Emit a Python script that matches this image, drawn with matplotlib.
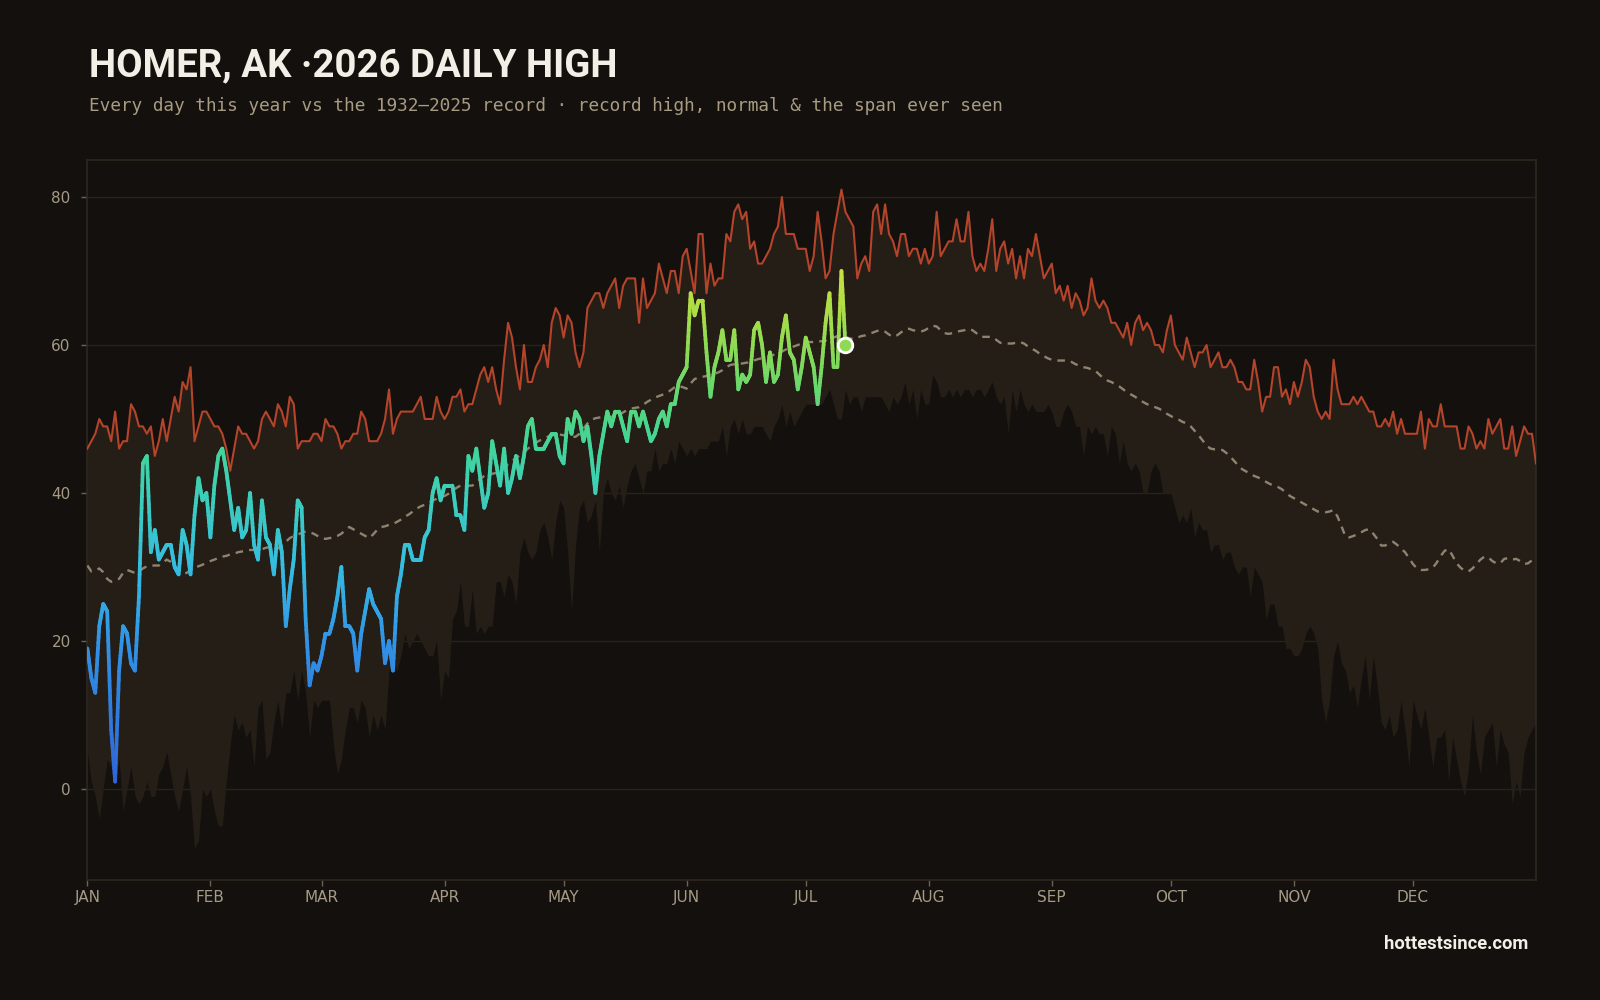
"""
Homer, AK 2026 daily high vs. the 1932-2025 record
"""

import numpy as np
import matplotlib
matplotlib.use('Agg')  # no display
import matplotlib.pyplot as plt
from matplotlib.collections import LineCollection
from matplotlib.colors import LinearSegmentedColormap

# ---- data (deg F, index 0 = Jan 1) ----
record_high = [
    46, 47, 48, 50, 49, 49, 47, 51, 46, 47, 47, 52, 51, 49, 49, 48, 49, 45, 47, 50,
    47, 50, 53, 51, 55, 54, 57, 47, 49, 51, 51, 50, 49, 49, 48, 46, 43, 46, 49, 48,
    48, 47, 46, 47, 50, 51, 50, 49, 52, 51, 49, 53, 52, 46, 47, 47, 47, 48, 48, 47,
    50, 49,
    49, 48, 46, 47, 47, 48, 48, 51, 50, 47, 47, 47, 48, 50, 54, 48, 50, 51, 51, 51,
    51, 52, 53, 50, 50, 50, 53, 51, 50, 51, 53, 53, 54, 51, 52, 52, 54, 56, 57, 55,
    57, 54, 52, 58, 63, 61, 57, 54, 60, 55, 55, 57, 58, 60, 57, 63, 65, 64, 61, 64,
    63, 59, 57, 59, 65, 66, 67, 67, 65, 67, 68, 69, 65, 68, 69, 69, 69, 63, 69, 65,
    66, 67, 71, 69, 67, 70, 70, 67, 72, 73, 70, 67, 75, 75, 67, 71, 68, 69, 69, 75,
    74, 78, 79, 77, 78, 73, 74, 71, 71, 72, 73, 75, 76, 80, 75, 75, 75, 73, 73, 73,
    70,
    72, 78, 74, 69, 70, 75, 78, 81, 78, 77, 76, 69, 71, 72, 70, 78, 79, 75, 79, 75,
    74, 72, 75, 75, 72, 73, 73, 71, 73, 71, 72, 78, 72, 73, 74, 74, 77, 74, 74, 78,
    72, 70, 71, 70, 73, 77, 70, 73, 74, 71, 73, 69, 72, 69, 73, 72, 75, 72, 69,
    70, 71, 67, 68, 66, 68, 65, 67, 66, 64, 65, 69, 66, 65, 66, 65, 63, 63, 62, 61,
    63, 60, 63, 64, 62, 63, 62, 60, 60, 59, 62, 64, 60, 59, 58, 61, 59, 57, 59, 59,
    60, 57, 58, 59, 57, 57, 58, 57, 55, 55, 54, 54, 58, 55, 51, 53, 53, 57, 57, 53,
    54, 52,
    55, 53, 55, 58, 57, 53, 51, 50, 51, 50, 58, 54, 52, 52, 52, 53, 52, 53, 52, 51,
    51, 49, 49, 50, 49, 51, 48, 50, 48, 48, 48, 48, 51, 46, 50, 49, 49, 52, 49, 49,
    49, 49, 46, 46, 49, 48, 46, 47, 46, 50, 48, 49, 50, 46, 46, 49, 45, 47, 49, 48,
    48, 44,
]

# lowest daily high ever recorded (bottom of the "span ever seen")
lowest_high = [
    5, 1, -1, -4, 0, 4, 3, 1, 4, -3, 0, 3, -1, -2, -1, 1, -1, -1, 2, 3,
    5, 2, -1, -3, 0, 3, -1, -8, -7, 0, -1, 0, -3, -5, -5, 1, 6, 10, 8, 9,
    7, 8, 3, 11, 12, 4, 5, 9, 12, 8, 13, 13, 16, 12, 16, 13, 7, 12, 11, 12,
    12, 12,
    6, 2, 4, 8, 11, 11, 9, 12, 11, 7, 10, 8, 10, 8, 16, 17, 16, 18, 21, 19,
    20, 21, 20, 19, 18, 18, 20, 12, 16, 15, 23, 24, 28, 22, 22, 27, 21, 22, 21, 22,
    22, 28, 28, 26, 29, 28, 25, 32, 34, 32, 31, 32, 35, 36, 34, 31, 36, 39, 38, 32,
    24, 33, 38, 39, 36, 37, 39, 32, 40, 42, 40, 39, 41, 38, 41, 43, 44, 42, 40, 43,
    43, 46, 43, 44, 44, 46, 44, 47, 46, 45, 46, 45, 46, 46, 46, 47, 47, 47, 49, 45,
    49, 50, 48, 50, 48, 48, 49, 49, 49, 48, 47, 49, 50, 52, 49, 51, 49, 50, 51, 52,
    52,
    52, 52, 52, 53, 54, 52, 50, 50, 54, 52, 53, 53, 51, 53, 53, 53, 53, 53, 52, 51,
    53, 52, 53, 55, 52, 54, 50, 54, 52, 52, 56, 55, 53, 53, 54, 53, 54, 53, 54, 54,
    53, 54, 54, 53, 54, 55, 53, 52, 53, 48, 54, 51, 54, 52, 51, 52, 51, 51, 51, 52,
    51, 49, 49, 51, 52, 51, 49, 49, 45, 49, 48, 49, 48, 48, 45, 49, 48, 44, 47, 44,
    43, 44, 43, 40, 40, 43, 44, 43, 40, 40, 40, 38, 36, 37, 36, 38, 34, 36, 35, 35,
    32, 33, 33, 31, 32, 32, 30, 29, 30, 30, 26, 30, 29, 28, 23, 25, 25, 22, 22, 19,
    19, 18, 18, 19, 21, 22, 21, 19, 12, 9, 12, 18, 20, 17, 16, 13, 14, 11, 15, 18,
    12, 18, 14, 9, 8, 10, 7, 8, 12, 8, 3, 12, 10, 8, 11, 7, 3, 7, 7, 8,
    1, 7, 4, 1, -1, 3, 10, 5, 2, 7, 8, 9, 3, 8, 6, 5, -2, 1, -1, 5,
    7, 8, 9,
]

normal_high = [
    30.2, 29.4, 29.5, 29.8, 29.3, 28.4, 28.0, 28.2, 28.4, 29.2,
    29.6, 29.4, 29.2, 29.4, 29.8, 30.1, 30.2, 30.2, 30.2, 30.6,
    31.0, 30.7, 30.0, 29.5, 29.0, 29.2, 29.6, 29.9, 30.1, 30.3,
    30.6, 30.8, 31.0, 31.2, 31.4, 31.5, 31.7, 31.8, 32.0, 32.1,
    32.2, 32.3, 32.3, 32.3, 32.4, 32.6, 32.7, 32.6, 32.5, 32.9,
    33.4, 33.9, 34.2, 34.4, 34.6, 34.8, 34.7, 34.5, 34.2,
    33.9, 33.8, 33.9, 34.0, 34.2, 34.5, 35.0, 35.4, 35.1, 34.8,
    34.5, 34.2, 33.9, 34.4, 35.0, 35.4, 35.5, 35.7, 35.8, 36.1,
    36.4, 36.8, 37.1, 37.5, 37.9, 38.2, 38.4, 38.7, 39.0, 39.2,
    39.4, 39.6, 39.9, 40.3, 40.7, 41.0, 41.0, 41.0, 41.0, 41.4,
    41.9, 42.3, 42.5, 42.6, 42.7, 42.9, 43.4, 43.9, 44.3, 44.7,
    45.1, 45.5, 46.0, 46.4, 46.8, 47.1, 47.3, 47.6, 47.8, 47.9,
    47.9, 47.8, 47.7, 47.6, 47.6, 48.0, 48.7, 49.4, 49.9, 50.1,
    50.2, 50.3, 50.3, 50.3, 50.3, 50.5, 50.9, 51.2, 51.4, 51.5,
    51.6, 51.9, 52.3, 52.6, 52.9, 53.1, 53.3, 53.5, 53.9, 54.3,
    54.5, 54.3, 54.1, 54.8, 55.4, 55.6, 55.7, 55.8, 55.9, 56.1,
    56.3, 56.6, 57.0, 57.3, 57.4, 57.5, 57.5, 57.6, 57.7, 57.9,
    58.1, 58.2, 58.4, 58.5, 58.7, 58.9, 59.1,
    59.4, 59.6, 59.8, 60.0, 60.2, 60.3, 60.4, 60.4, 60.5, 60.5,
    60.6, 60.8, 61.0, 61.2, 61.3, 61.1, 60.9, 60.8, 61.0, 61.2,
    61.3, 61.5, 61.7, 61.9, 62.0, 61.8, 61.4, 61.1, 61.3, 61.7,
    62.1, 62.2, 62.0, 61.9, 61.8, 62.0, 62.3, 62.6, 62.5, 62.0,
    61.6, 61.5, 61.6, 61.8, 61.9, 62.0, 62.2, 62.0, 61.6, 61.1,
    61.1, 61.1, 61.1, 60.7, 60.3, 60.2, 60.2, 60.2, 60.3, 60.4,
    60.2, 59.8, 59.5, 59.2, 58.8, 58.5, 58.2,
    58.0, 57.9, 57.9, 57.9, 57.9, 57.7, 57.4, 57.2, 57.0, 56.9,
    56.7, 56.5, 56.0, 55.5, 55.2, 55.0, 54.7, 54.4, 54.0, 53.6,
    53.3, 53.0, 52.6, 52.3, 52.0, 51.8, 51.6, 51.4, 51.1, 50.7,
    50.4, 50.1, 49.9, 49.6, 49.4, 49.0, 48.4, 47.8, 47.1, 46.4,
    46.0, 45.9, 45.9, 45.8, 45.4, 44.9, 44.3, 43.7, 43.2, 42.9,
    42.6, 42.3, 42.1, 41.8, 41.5, 41.2, 41.0,
    40.8, 40.5, 40.0, 39.6, 39.3, 39.0, 38.7, 38.4, 38.1, 37.8,
    37.5, 37.5, 37.4, 37.5, 37.7, 36.8, 35.5, 34.1, 34.0, 34.2,
    34.4, 34.7, 35.0, 35.1, 34.5, 33.8, 32.9, 32.9, 33.2, 33.4,
    33.0, 32.5, 32.0, 31.2, 30.4, 29.8, 29.6, 29.6, 29.7, 29.9,
    30.6, 31.5, 32.2, 32.4, 31.5, 30.5, 29.9, 29.5, 29.4, 29.8,
    30.4, 31.0, 31.4, 31.3, 30.8, 30.5, 30.5, 31.1, 31.2, 31.0,
    31.1, 30.8, 30.4, 30.5, 30.9, 31.1,
]

# this year, Jan 1 .. Jul 11
daily_2026 = [
    19, 15, 13, 22, 25, 24, 8, 1, 16, 22,
    21, 17, 16, 26, 44, 45, 32, 35, 31, 32,
    33, 33, 30, 29, 35, 33, 29, 37, 42, 39,
    40, 34, 41, 45, 46, 43, 39, 35, 38, 34,
    35, 40, 33, 31, 39, 34, 33, 29, 35, 32,
    22, 27, 31, 39, 38, 23, 14, 17, 16, 18,
    21, 21, 23, 26, 30, 22, 22, 21, 16, 21,
    24, 27, 25, 24, 23, 17, 20, 16, 26, 29,
    33, 33, 31, 31, 31, 34, 35, 40, 42, 39,
    41, 41, 41, 37, 37, 35, 45, 43, 46, 42,
    38, 40, 47, 44, 41, 46, 40, 42, 45, 42,
    45, 49, 50, 46, 46, 46, 47, 48, 48, 45,
    44, 50, 48, 51, 50, 47, 49, 45, 40, 45,
    48, 51, 49, 51, 51, 49, 47, 51, 51, 49,
    51, 49, 47, 48, 50, 51, 49, 52, 52, 55,
    56, 57, 67, 64, 66, 66, 59, 53, 57, 59,
    62, 58, 58, 62, 54, 56, 55, 56, 62, 63,
    60, 55, 59, 55, 56, 61, 64, 59, 58, 54,
    57, 61, 59, 57, 52, 57, 63, 67, 57, 57,
    70, 60,
]

month_starts = [0, 31, 59, 90, 120, 151, 181, 212, 243, 273, 304, 334]
month_labels = ['JAN', 'FEB', 'MAR', 'APR', 'MAY', 'JUN',
                'JUL', 'AUG', 'SEP', 'OCT', 'NOV', 'DEC']
y_ticks = [0, 20, 40, 60, 80]

# ---- colours ----
BG = '#13100d'
BAND = '#241e17'
RECORD = '#b4442a'
NORMAL = '#9a8f7a'
GRID = '#29221c'
SPINE = '#2e2820'
TICK = '#a59a86'

temp_cmap = LinearSegmentedColormap.from_list('temp', [
    (0.00, '#2f63d6'),
    (0.28, '#3194e6'),
    (0.42, '#36bde0'),
    (0.56, '#3ccfb8'),
    (0.68, '#47d68e'),
    (0.80, '#7fd95c'),
    (0.92, '#b5de44'),
    (1.00, '#cfe23c'),
])

fig = plt.figure(figsize=(16, 10), dpi=100, facecolor=BG)
ax = fig.add_axes([0.0546, 0.12, 0.9054, 0.72])
ax.set_facecolor(BG)

days = np.arange(len(record_high))

# grid first so the band covers it
for v in y_ticks:
    ax.axhline(v, color=GRID, lw=1.0, zorder=0)

# span ever seen + record high + normal
ax.fill_between(days, lowest_high, record_high, color=BAND, lw=0, zorder=1)
ax.plot(days, record_high, color=RECORD, lw=1.5, zorder=3)
ax.plot(days, normal_high, color=NORMAL, lw=1.7, ls=(0, (3.2, 2.6)), alpha=0.9, zorder=3)

# 2026 line, coloured by temperature (segments split finely so the colour runs smoothly)
x26 = np.arange(len(daily_2026))
y26 = np.array(daily_2026, dtype=float)
xs = np.linspace(0, x26[-1], x26[-1] * 12 + 1)
ys = np.interp(xs, x26, y26)
pts = np.column_stack([xs, ys]).reshape(-1, 1, 2)
segs = np.concatenate([pts[:-1], pts[1:]], axis=1)
lc = LineCollection(segs, cmap=temp_cmap, norm=plt.Normalize(0, 72),
                    linewidth=2.7, capstyle='round', joinstyle='round', zorder=4)
lc.set_array((ys[:-1] + ys[1:]) / 2)
ax.add_collection(lc)

# today marker
ax.scatter([x26[-1]], [y26[-1]], s=110, color=temp_cmap(y26[-1] / 72),
           edgecolor='white', linewidth=2, zorder=6)

# ---- axes styling ----
ax.set_xlim(0, len(record_high) - 1)
ax.set_ylim(-12.3, 85)
ax.set_xticks(month_starts)
ax.set_xticklabels(month_labels)
ax.set_yticks(y_ticks)
ax.tick_params(axis='both', colors='#6b6355', labelcolor=TICK, labelsize=11,
               length=4, width=1)
ax.tick_params(axis='x', pad=3)
ax.tick_params(axis='y', pad=8)
for s in ax.spines.values():
    s.set_color(SPINE)
    s.set_linewidth(1.2)

# ---- titles ----
fig.text(0.0555, 0.9235, 'HOMER, AK \u00b72026 DAILY HIGH', fontsize=27.6,
         fontweight='bold', family='Roboto', color='#f4efe6', va='baseline')
fig.text(0.0555, 0.889,
         'Every day this year vs the 1932\u20132025 record \u00b7 record high, normal & the span ever seen',
         fontsize=12.8, family='DejaVu Sans Mono', color='#a89b83', va='baseline')
fig.text(0.955, 0.056, 'hottestsince.com', fontsize=13.2, fontweight='bold',
         family='Roboto', color='#f4efe6', ha='right', va='center')

plt.savefig('out.png', dpi=100, facecolor=BG)
plt.close()
